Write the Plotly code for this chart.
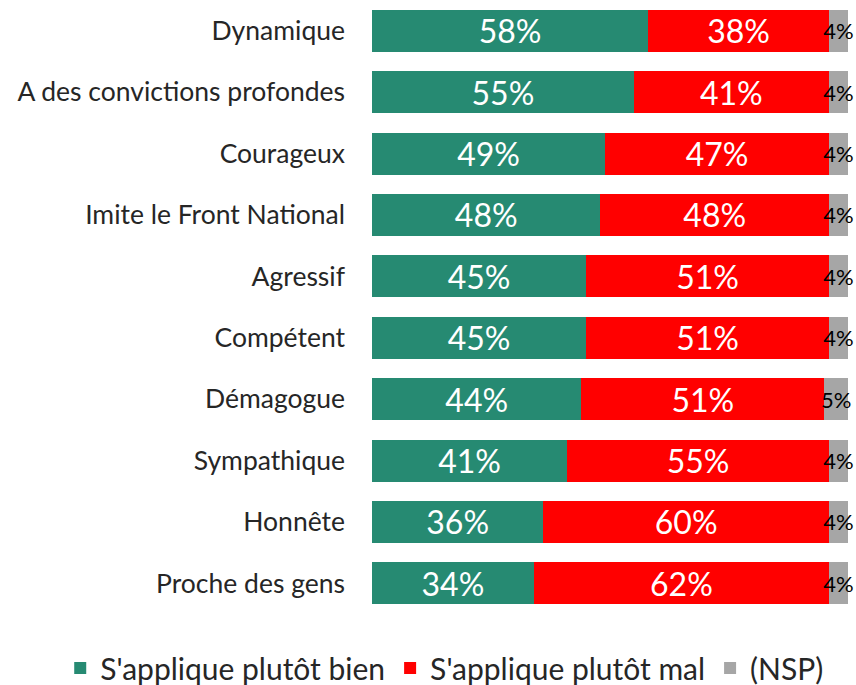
import plotly.graph_objects as go

categories = ["Dynamique", "A des convictions profondes", "Courageux", "Imite le Front National",
              "Agressif", "Compétent", "Démagogue", "Sympathique", "Honnête", "Proche des gens"]
bien = [58, 55, 49, 48, 45, 45, 44, 41, 36, 34]
mal = [38, 41, 47, 48, 51, 51, 51, 55, 60, 62]
nsp = [4, 4, 4, 4, 4, 4, 5, 4, 4, 4]
series_names = ["S'applique plutôt bien", "S'applique plutôt mal", "(NSP)"]
colors = ["#268A72", "#FF0000", "#A6A6A6"]

FONT = "Lato"
fig = go.Figure()
for name, vals, col, tcol, tsize in [
    (series_names[0], bien, colors[0], "white", 32),
    (series_names[1], mal, colors[1], "white", 32),
    (series_names[2], nsp, colors[2], "black", 22),
]:
    fig.add_trace(go.Bar(
        y=categories, x=vals, name=name, orientation="h",
        marker=dict(color=col, line=dict(width=0)),
        text=[f"{v}%" for v in vals], textposition="inside",
        insidetextanchor="middle", textangle=0, constraintext="none",
        insidetextfont=dict(color=tcol, size=tsize, family=FONT),
        cliponaxis=False,
        hoverinfo="skip",
    ))

fig.update_layout(
    barmode="stack", bargap=0.316,
    width=856, height=685,
    margin=dict(l=372, r=8, t=0, b=71, autoexpand=False),
    plot_bgcolor="white", paper_bgcolor="white",
    font=dict(family=FONT, size=26.5, color="#262626"),
    xaxis=dict(range=[0, 100], visible=False, fixedrange=True),
    yaxis=dict(autorange="reversed", showgrid=False, ticks="", ticklabelstandoff=26,
               tickfont=dict(size=26.5, color="#262626", family=FONT)),
    legend=dict(orientation="h", traceorder="normal",
                x=-0.655, xanchor="left", y=-0.088, yanchor="middle",
                font=dict(size=30, color="#262626", family=FONT),
                itemwidth=30, tracegroupgap=0),
    showlegend=True,
)
fig.write_html("out.html", config={"displayModeBar": False},
               post_script="document.body.style.margin='0';document.body.style.overflow='hidden';")
